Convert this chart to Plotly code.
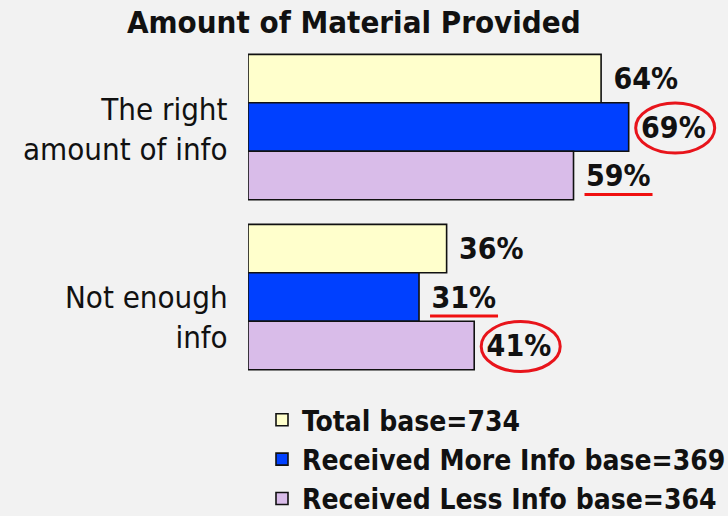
import plotly.graph_objects as go

# ---- data ----
categories = ["The right amount of info", "Not enough info"]
category_labels = ["The right<br>amount of info", "Not enough<br>info"]
series_names = ["Total base=734", "Received More Info base=369", "Received Less Info base=364"]
total_vals = [64, 36]
more_vals = [69, 31]
less_vals = [59, 41]
series_colors = ["#FFFFCC", "#0040FF", "#D9BCE9"]
# highlighted labels: (series index, category index)
circled = [(1, 0), (2, 1)]
underlined = [(2, 0), (1, 1)]

FONT = "DejaVu Sans Condensed"
BARGAP = 0.145
values = [total_vals, more_vals, less_vals]

fig = go.Figure()
for name, vals, col in zip(series_names, values, series_colors):
    fig.add_trace(go.Bar(
        y=categories, x=vals, name=name, orientation="h",
        marker=dict(color=col, line=dict(color="#111111", width=1.6)),
        texttemplate="\u00a0%{x}%", textposition="outside",
        textfont=dict(family=FONT, size=30, color="#111111", weight="bold"),
        constraintext="none", cliponaxis=False, legendgroup=name,
    ))

step = (1 - BARGAP) / len(series_names)
shapes = []
for si, ci in circled:
    shapes.append(dict(
        type="circle", xref="x", yref="y", xsizemode="pixel", ysizemode="pixel",
        xanchor=values[si][ci], yanchor=ci + (si - 1) * step,
        x0=7, x1=86, y0=-26, y1=24, line=dict(color="#E8141B", width=3),
    ))
for si, ci in underlined:
    shapes.append(dict(
        type="line", xref="x", yref="y", xsizemode="pixel", ysizemode="pixel",
        xanchor=values[si][ci], yanchor=ci + (si - 1) * step,
        x0=11, x1=79, y0=-19, y1=-19, line=dict(color="#F01010", width=3),
    ))

label_shifts = [-2, -20]
annotations = []
for cat, lab, ys in zip(categories, category_labels, label_shifts):
    annotations.append(dict(
        x=0, xref="paper", y=cat, yref="y", text=lab, showarrow=False,
        xanchor="right", yanchor="middle", align="right", xshift=-18, yshift=ys,
        font=dict(family=FONT, size=31, color="#111111"),
    ))

fig.update_layout(
    width=728, height=516,
    paper_bgcolor="#F2F2F2", plot_bgcolor="#F2F2F2",
    margin=dict(l=248, r=0, t=42, b=134, autoexpand=False),
    barmode="group", bargap=BARGAP, bargroupgap=0,
    title=dict(text="<b>Amount of Material Provided</b>", x=0.486, xanchor="center",
               y=1 - 22 / 516, yanchor="middle", yref="container",
               font=dict(family=FONT, size=31, color="#111111")),
    xaxis=dict(range=[0, 87], visible=False, fixedrange=True),
    yaxis=dict(type="category", range=[1.5, -0.5], showticklabels=False,
               showgrid=False, zeroline=False, showline=False, ticks="", fixedrange=True),
    showlegend=True,
    legend=dict(xref="container", yref="container", x=262 / 728, y=1 - 395 / 516,
                xanchor="left", yanchor="top", traceorder="grouped", tracegroupgap=0,
                bgcolor="rgba(0,0,0,0)",
                font=dict(family=FONT, size=28, color="#111111", weight="bold")),
    shapes=shapes, annotations=annotations,
)
fig.write_html("out.html", config={"displayModeBar": False},
               post_script="document.body.style.margin='0';document.body.style.overflow='hidden';")
